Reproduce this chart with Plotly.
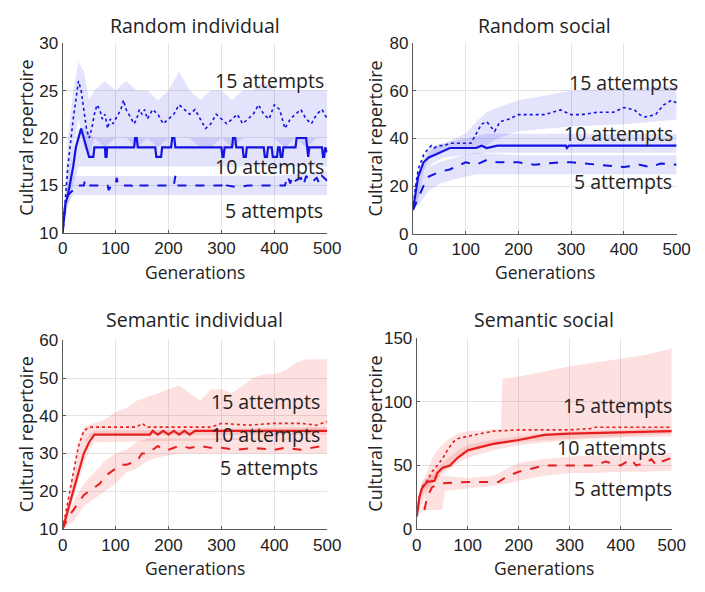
import plotly.graph_objects as go

# ---------------- DATA ----------------
# (generation, value) pairs
ri_15 = [(0,10),(5,14),(10,17),(20,22),(30,26),(35,25),(40,23),(45,21),(50,20),(55,21),(60,22.5),(65,23.5),(70,23),(75,22),
         (80,22.5),(85,21),(90,22),(95,21.5),(100,22),(110,23),(115,24),(120,23),(130,22),(135,21.5),(140,22),(145,23),
         (150,22.5),(155,23),(160,22),(170,23),(180,22.5),(190,21.5),(200,22),(210,22.5),(220,23.5),(230,23),(240,22.5),
         (250,23),(260,22),(270,21),(280,21.5),(290,22.5),(300,22),(310,21.5),(320,22),(330,22.5),(340,21.5),(350,22),
         (360,22.5),(370,23.5),(380,22.5),(390,22),(400,23.5),(410,23),(420,21),(430,22),(440,22.5),(450,23),(460,22),
         (470,21.5),(480,22.5),(490,23),(500,22)]
ri_10 = [(0,10),(5,13),(10,14),(20,17),(25,19),(30,20),(35,21),(40,20),(45,19),(50,18),(58,18),(60,19),(80,19),(81,18),
         (83,18),(84,19),(135,19),(137,20),(140,20),(142,19),(175,19),(177,18),(186,18),(188,19),(205,19),(207,20),
         (211,20),(213,19),(300,19),(302,18),(304,18),(306,19),(320,19),(322,20),(326,20),(328,19),(340,19),(342,18),
         (346,18),(348,19),(380,19),(382,18),(386,18),(388,19),(395,19),(397,18),(405,18),(407,19),(410,19),(412,18),
         (415,18),(417,19),(440,19),(442,20),(460,20),(462,19),(464,18),(466,19),(490,19),(492,18),(494,18),(496,19),(500,18.5)]
ri_5 = [(0,10),(5,13),(10,14),(20,14.5),(25,15),(40,15),(42,15.5),(44,15),(85,15),(87,14.5),(92,15),(100,15),(102,15.8),
        (105,15),(130,15),(135,14.7),(140,15),(210,15),(213,16),(216,15),(300,15),(305,15.5),(310,15),(330,14.8),(350,15),
        (420,15),(425,16),(430,15.2),(435,16),(440,15.5),(450,15.8),(455,15),(460,16),(470,15.3),(480,15.8),(485,15.2),
        (490,16),(500,15.5)]

rs_15 = [(0,10),(5,20),(10,27),(20,33),(30,36),(35,37),(40,36),(50,37),(60,37),(70,38),(110,38),(120,42),(130,46),(140,47),
         (150,44),(155,43),(165,47),(180,48),(200,50),(250,50),(280,52),(300,50),(320,50),(350,51),(380,51),(400,53),
         (420,52),(430,50),(440,49),(460,50),(475,54),(490,56),(500,55)]
rs_10 = [(0,10),(5,18),(10,24),(20,30),(30,32),(40,33),(50,34),(60,35),(70,36),(120,36),(130,37),(140,36),(160,37),
         (290,37),(292,36),(296,37),(500,37)]
rs_5 = [(0,10),(10,15),(20,20),(30,24),(50,26),(70,27),(80,28),(100,30),(120,29),(140,31),(160,30),(200,30),(230,29),
        (250,29.5),(280,30),(300,30),(350,29),(400,28),(430,29),(450,28),(470,29.5),(500,29)]

si_15 = [(0,10),(10,17),(20,24),(30,32),(40,36),(50,37),(100,37),(140,37),(150,38),(160,37),(200,37),(280,37),(300,38),
         (350,37.5),(400,38),(450,38),(480,37.5),(500,38.5)]
si_10 = [(0,10),(10,15),(20,20),(30,25),(40,30),(50,33),(60,35),(100,35),(165,35),(170,36),(180,35),(190,36),(200,35),
         (210,36),(220,35),(230,36),(240,35),(250,36),(270,36),(500,36)]
si_5 = [(0,10),(10,13),(20,15),(30,17),(40,19),(50,20),(60,21),(70,22),(80,24),(90,25),(100,26),(110,27),(120,27),
        (130,27.5),(140,28),(150,30),(160,30),(170,31),(180,32),(190,31),(200,31),(220,32),(240,31.5),(260,32),(280,31.5),
        (300,31.5),(330,31),(360,31.5),(400,31),(420,31.5),(450,31),(470,31.5),(490,32),(500,31.5)]

ss_15 = [(0,10),(5,25),(10,33),(20,38),(30,45),(40,50),(50,55),(60,62),(70,68),(80,71),(100,73),(150,77),(200,78),
         (300,78),(340,79),(350,80),(500,80)]
ss_10 = [(0,10),(5,25),(10,32),(20,37),(35,38),(40,44),(50,48),(65,50),(80,56),(100,62),(150,67),(200,70),(250,74),
         (300,75),(400,76),(500,77)]
ss_5 = [(15,15),(20,25),(30,33),(50,36),(100,37),(160,37),(180,42),(200,45),(250,50),(300,50),(350,50),(370,53),
        (380,52),(400,50),(420,55),(430,50),(450,52),(460,55),(470,50),(480,53),(500,56)]

# bands: (generation, lower, upper)
ri_b15 = [(0,10,10),(10,14,20),(20,19,25),(30,22,28),(40,19,27),(50,18,24),(60,20,25),(80,19,26),(100,20,25),(120,20,26),
          (140,19,25),(160,20,25),(180,19,24),(200,20,25),(220,20,27),(240,20,25),(260,19,24),(280,19,25),(300,20,25),
          (320,19,24),(340,20,25),(360,20,25),(380,20,26),(400,20,25),(420,19,25),(440,20,25),(460,19,25),(480,20,25),(500,20,25)]
ri_b10 = [(0,10,10),(10,13,16),(20,15,19),(30,17,21),(40,17,21),(60,17,20),(500,17,20)]
ri_b5 = [(0,10,10),(10,13,15),(20,14,16),(400,14,16),(500,14,16.5)]

rs_b15 = [(0,10,10),(10,16,24),(20,26,32),(30,31,36),(40,33,37),(60,35,38),(80,36,40),(100,36,42),(120,36,47),(140,37,51),
          (160,40,53),(200,43,56),(250,44,58),(300,45,60),(400,46,61),(500,48,62)]
rs_b10 = [(0,10,10),(10,14,22),(20,24,30),(30,28,34),(40,30,36),(60,32,38),(100,33,40),(140,34,42),(500,34,42)]
rs_b5 = [(0,10,10),(10,12,18),(20,15,24),(30,18,28),(50,21,30),(80,23,32),(120,25,34),(200,25,33),(500,25,33)]

si_b15 = [(0,10,10),(10,14,17),(20,20,25),(30,28,33),(40,33,37),(60,35,38),(80,35,39),(100,35,41),(120,35,42),
          (140,35,44),(160,35,45),(180,35,46),(200,35,47),(220,35,48),(240,35,46),(260,35,44),(280,35,47),(300,35,47),
          (320,35,46),(340,35,48),(360,35,50),(380,35,51),(400,35,51),(420,35,52),(440,35,54),(460,35,55),(500,35,55)]
si_b10 = [(0,10,10),(10,13,16),(20,18,22),(30,23,28),(40,27,33),(50,31,35),(60,33,36),(500,34,37)]
si_b5 = [(0,10,10),(20,12,17),(40,16,22),(60,18,25),(80,20,28),(100,22,30),(120,25,31),(140,26,33),(160,28,34),
         (180,29,34),(220,30,34),(500,30,34)]

ss_b15 = [(0,10,10),(5,14,25),(10,20,35),(20,30,45),(30,35,55),(40,40,62),(50,45,66),(60,50,70),(80,55,75),(100,60,77),
          (140,65,78),(165,67,79),(168,67,118),(200,68,120),(250,70,124),(300,71,128),(350,72,131),(400,73,134),
          (450,74,137),(500,75,142)]
ss_b10 = [(0,10,10),(10,25,38),(20,33,40),(40,40,48),(60,46,55),(80,52,62),(100,56,66),(150,62,70),(200,66,73),
          (300,70,77),(400,72,78),(500,73,79)]
ss_b5 = [(0,10,10),(15,15,20),(20,15,40),(30,15,42),(50,15,42),(55,30,42),(100,32,40),(150,34,42),(180,36,48),
         (200,38,52),(250,42,55),(300,44,57),(350,44,58),(400,45,58),(450,45,60),(500,46,60)]

titles = ["Random individual", "Random social", "Semantic individual", "Semantic social"]
y_ranges = [(10, 30), (0, 80), (10, 60), (0, 150)]
y_dticks = [5, 20, 10, 50]
x_ticks = [0, 100, 200, 300, 400, 500]
labels = ["15 attempts", "10 attempts", "5 attempts"]

# ---------------- STYLE / LAYOUT ----------------
W, H = 705, 592
OFF = 8  # page body margin offsets the figure by 8px
BLUE = "rgb(20,20,225)"
RED = "rgb(232,30,30)"
BLUE_F = "rgba(40,40,230,0.13)"
RED_F = "rgba(245,60,60,0.16)"
TXT = "#222222"
FONT = "Open Sans"

# pixel boxes in the final picture: (left, right, top, bottom)
boxes = [(59, 331, 35, 231), (419, 690, 35, 232), (59, 331, 342, 537), (423, 685, 340, 537)]
# annotation positions (right px, center y px) for 15, 10, 5
ann_pos = [[(330, 74), (330, 162), (329, 208)],
           [(693, 76), (688, 128), (687, 178)],
           [(326, 405), (326, 439), (324, 473)],
           [(687, 409), (681, 453), (687, 495)]]
title_y = [17, 17, 321, 321]
gen_y = [271, 271, 577, 577]
ylab_x = [21, 380, 21, 380]

panels = [
    (ri_15, ri_10, ri_5, ri_b15, ri_b10, ri_b5, BLUE, BLUE_F),
    (rs_15, rs_10, rs_5, rs_b15, rs_b10, rs_b5, BLUE, BLUE_F),
    (si_15, si_10, si_5, si_b15, si_b10, si_b5, RED, RED_F),
    (ss_15, ss_10, ss_5, ss_b15, ss_b10, ss_b5, RED, RED_F),
]

fig = go.Figure()
annotations = []
layout = dict(width=W, height=H, margin=dict(l=0, r=0, t=0, b=0), paper_bgcolor="white",
              plot_bgcolor="white", showlegend=False)


def px_x(p):
    return (p - OFF) / W


def px_y(p):
    return 1 - (p - OFF) / H


for i, (l15, l10, l5, b15, b10, b5, col, fcol) in enumerate(panels):
    xa = "x" if i == 0 else f"x{i+1}"
    ya = "y" if i == 0 else f"y{i+1}"
    for band in (b15, b10, b5):
        g = [b[0] for b in band]
        lo = [b[1] for b in band]
        hi = [b[2] for b in band]
        fig.add_trace(go.Scatter(x=g + g[::-1], y=hi + lo[::-1], fill="toself", fillcolor=fcol,
                                 line=dict(width=0), mode="lines", hoverinfo="skip", xaxis=xa, yaxis=ya))
    for series, dash, w in ((l5, "dash", 2), (l10, "solid", 2.2), (l15, "dot", 1.6)):
        fig.add_trace(go.Scatter(x=[p[0] for p in series], y=[p[1] for p in series], mode="lines",
                                 line=dict(color=col, width=w, dash=dash), xaxis=xa, yaxis=ya))
    left, right, top, bottom = boxes[i]
    axkey = "xaxis" if i == 0 else f"xaxis{i+1}"
    aykey = "yaxis" if i == 0 else f"yaxis{i+1}"
    layout[axkey] = dict(domain=[px_x(left), px_x(right)], range=[0, 500], anchor=ya,
                         tickvals=x_ticks, showgrid=True, gridcolor="#e3e3e3", gridwidth=1,
                         showline=True, linecolor="#5a5a5a", linewidth=1.2, ticks="inside", ticklen=3,
                         tickcolor="#5a5a5a", zeroline=False,
                         tickfont=dict(family="Liberation Sans", size=17, color=TXT))
    y0, y1 = y_ranges[i]
    layout[aykey] = dict(domain=[px_y(bottom), px_y(top)], range=[y0, y1], anchor=xa,
                         dtick=y_dticks[i], tick0=0, showgrid=True, gridcolor="#e3e3e3", gridwidth=1,
                         showline=True, linecolor="#5a5a5a", linewidth=1.2, ticks="inside", ticklen=3,
                         tickcolor="#5a5a5a", zeroline=False,
                         tickfont=dict(family="Liberation Sans", size=17, color=TXT))
    annotations.append(dict(text=titles[i], x=px_x((left + right) / 2), y=px_y(title_y[i]), xref="paper",
                            yref="paper", showarrow=False, xanchor="center", yanchor="middle",
                            font=dict(family=FONT, size=19.5, color=TXT)))
    annotations.append(dict(text="Generations", x=px_x((left + right) / 2), y=px_y(gen_y[i]), xref="paper",
                            yref="paper", showarrow=False, xanchor="center", yanchor="middle",
                            font=dict(family=FONT, size=17.5, color=TXT)))
    annotations.append(dict(text="Cultural repertoire", x=px_x(ylab_x[i]), y=px_y((top + bottom) / 2),
                            xref="paper", yref="paper", showarrow=False, xanchor="center", yanchor="middle",
                            textangle=-90, font=dict(family=FONT, size=18, color=TXT)))
    for lab, (rx, cy) in zip(labels, ann_pos[i]):
        annotations.append(dict(text=lab, x=px_x(rx), y=px_y(cy), xref="paper", yref="paper",
                                showarrow=False, xanchor="right", yanchor="middle",
                                font=dict(family=FONT, size=19.5, color=TXT)))

layout["annotations"] = annotations
fig.update_layout(**layout)
fig.write_html("out.html")
